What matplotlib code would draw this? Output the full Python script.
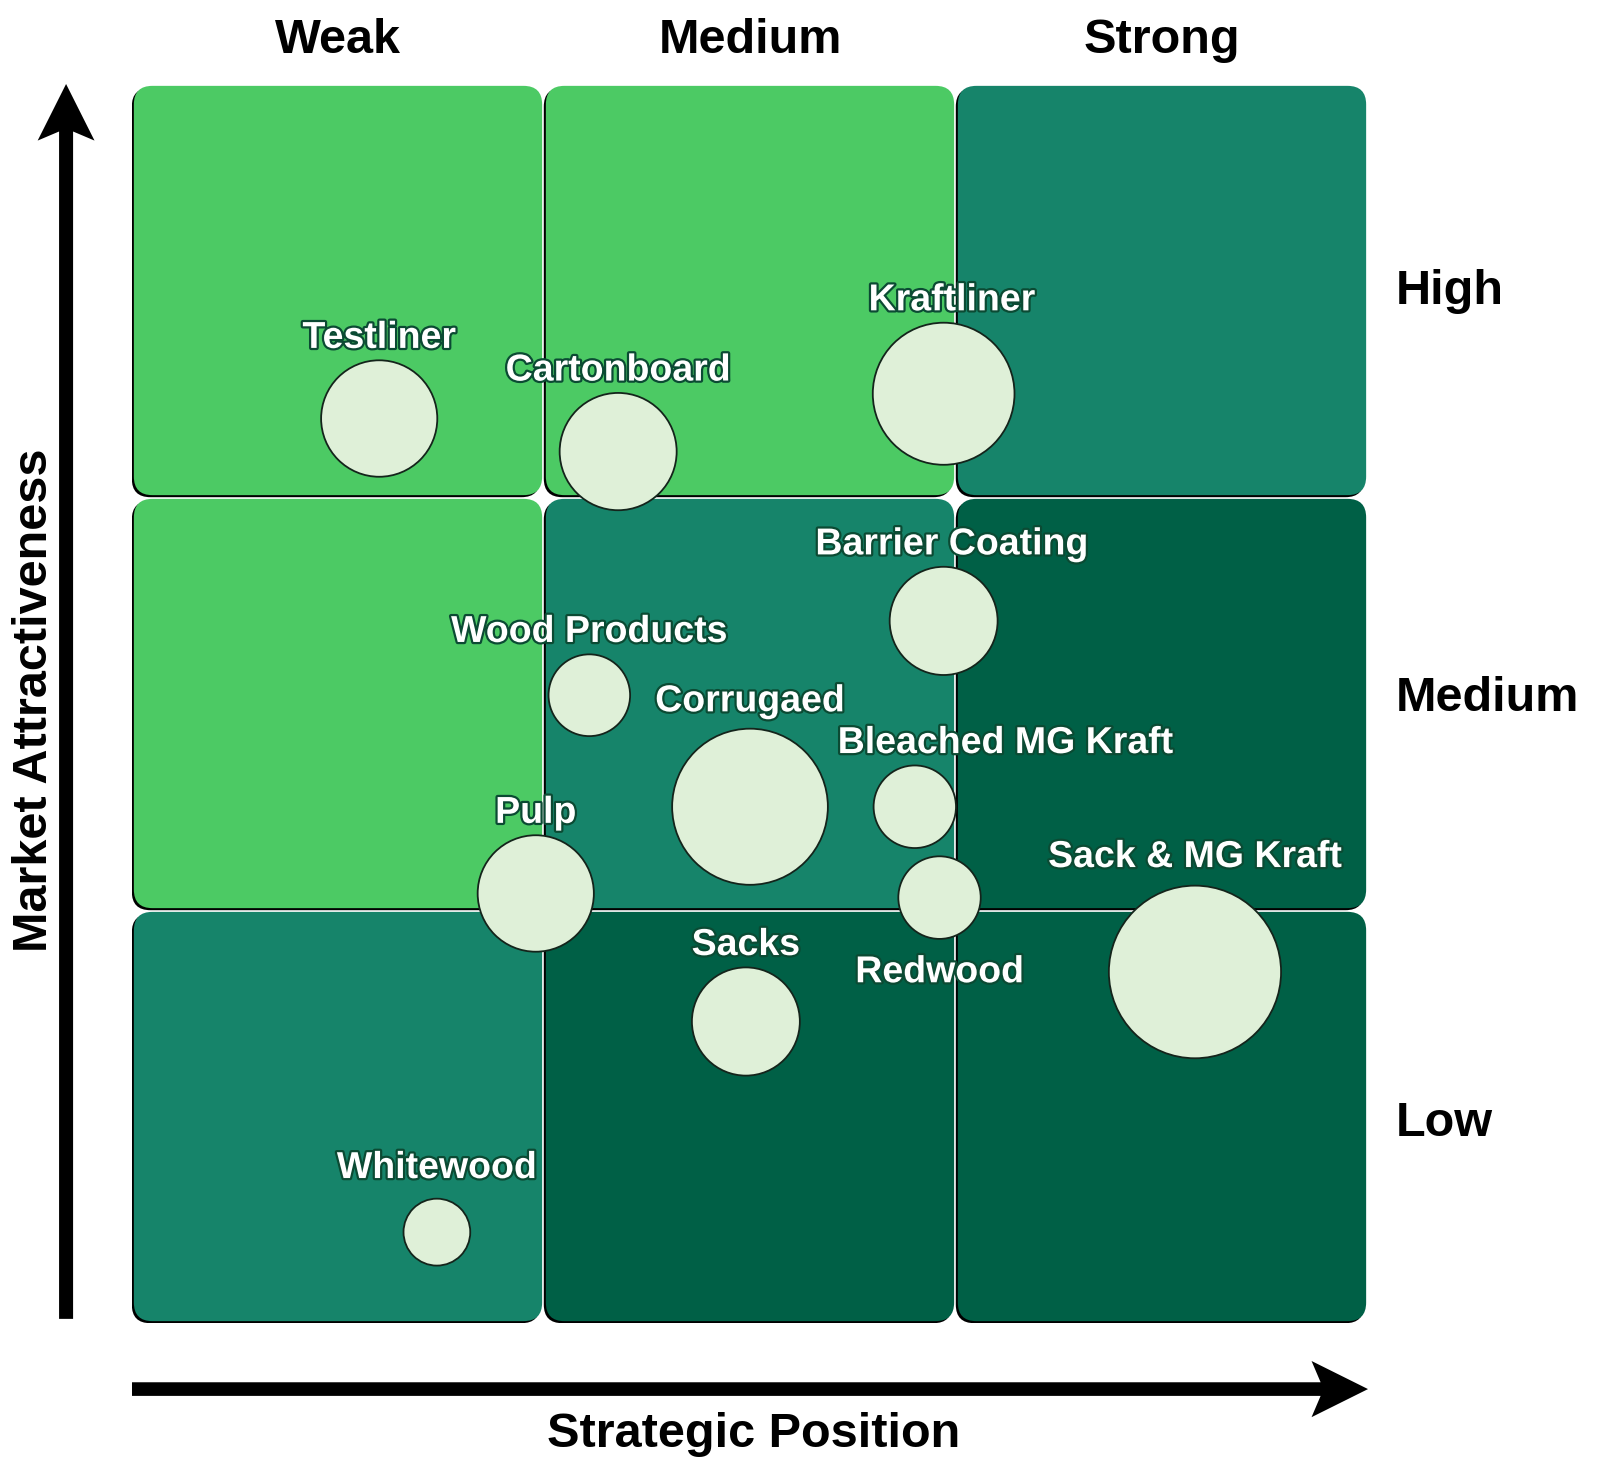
import numpy as np
import matplotlib
matplotlib.use("Agg")
import matplotlib.pyplot as plt
import matplotlib.patheffects as pe
from matplotlib.patches import FancyBboxPatch, Circle, Polygon

plt.rcParams['font.family'] = ['Liberation Sans', 'DejaVu Sans']

# data
position_labels = ["Weak", "Medium", "Strong"]
attract_labels = ["Low", "Medium", "High"]

products = ["Testliner", "Cartonboard", "Kraftliner", "Barrier Coating",
            "Wood Products", "Corrugaed", "Bleached MG Kraft", "Redwood",
            "Pulp", "Sack & MG Kraft", "Sacks", "Whitewood"]
strategic_position = [0.60, 1.18, 1.97, 1.97, 1.11, 1.50, 1.90, 1.96, 0.98, 2.58, 1.49, 0.74]
market_attract = [2.19, 2.11, 2.25, 1.70, 1.52, 1.25, 1.25, 1.03, 1.04, 0.85, 0.73, 0.22]
bubble_radius = [0.141, 0.142, 0.172, 0.131, 0.099, 0.189, 0.100, 0.100, 0.141, 0.209, 0.131, 0.081]

# zone colour per cell, rows from Low to High, columns Weak..Strong
zone = [["teal", "dark", "dark"],
        ["light", "teal", "dark"],
        ["light", "light", "teal"]]
zone_colors = {"light": "#4cca64", "teal": "#16846a", "dark": "#006046"}

# label nudges (dx, dy) so text sits like the original
nudge = {"Kraftliner": (0.02, 0), "Barrier Coating": (0.02, 0),
         "Bleached MG Kraft": (0.22, 0), "Corrugaed": (0, 0.012),
         "Sack & MG Kraft": (0, 0.015), "Whitewood": (0, 0.02)}

fig = plt.figure(figsize=(16.1, 14.69), dpi=100)
ax = fig.add_axes([132 / 1610, 146 / 1469, 1236 / 1610, 1239 / 1469])
ax.set_xlim(0, 3)
ax.set_ylim(0, 3)
ax.axis("off")

gap = 0.0045
for r in range(3):
    for c in range(3):
        x0, y0 = c + gap, r + gap
        w = h = 1 - 2 * gap
        shadow = FancyBboxPatch((x0 - 0.005, y0 - 0.005), w, h,
                                boxstyle="round,pad=0,rounding_size=0.045",
                                fc="black", ec="none", zorder=1)
        cell = FancyBboxPatch((x0, y0), w, h,
                              boxstyle="round,pad=0,rounding_size=0.045",
                              fc=zone_colors[zone[r][c]], ec="none", zorder=2)
        ax.add_patch(shadow)
        ax.add_patch(cell)

# bubbles
for x, y, rad in zip(strategic_position, market_attract, bubble_radius):
    ax.add_patch(Circle((x, y), rad, fc="#dff0d8", ec="#14241b", lw=1.3, zorder=3))

# labels
stroke = [pe.Stroke(linewidth=3.2, foreground="#0b4a33"), pe.Normal()]
for name, x, y, rad in zip(products, strategic_position, market_attract, bubble_radius):
    dx, dy = nudge.get(name, (0, 0))
    lx, ly = x + dx, y + rad + 0.03 + dy
    if name == "Redwood":
        ly = y - rad - 0.105
    ax.text(lx, ly, name, ha="center", va="baseline", fontsize=27,
            fontweight="bold", color="white", path_effects=stroke, zorder=4)

# column and row headings
for i, lab in enumerate(position_labels):
    ax.text(i + 0.5, 3.075, lab, ha="center", va="baseline", fontsize=35,
            fontweight="bold", color="black", clip_on=False)
for lab, yy in zip(attract_labels, [0.453, 1.483, 2.467]):
    ax.text(3.068, yy, lab, ha="left", va="baseline", fontsize=35,
            fontweight="bold", color="black", clip_on=False)


def arrow(start, end, shaft_hw, head_hw, head_len, notch):
    start = np.array(start, float)
    end = np.array(end, float)
    d = end - start
    L = np.hypot(*d)
    u = d / L
    n = np.array([-u[1], u[0]])
    pts = [start + n * shaft_hw,
           start + u * (L - head_len + notch) + n * shaft_hw,
           start + u * (L - head_len) + n * head_hw,
           end,
           start + u * (L - head_len) - n * head_hw,
           start + u * (L - head_len + notch) - n * shaft_hw,
           start - n * shaft_hw]
    ax.add_patch(Polygon(pts, closed=True, fc="black", ec="none",
                         clip_on=False, zorder=5))


arrow((0.0, -0.160), (3.0, -0.160), 0.0165, 0.068, 0.137, 0.022)
arrow((-0.160, 0.01), (-0.160, 3.0), 0.017, 0.069, 0.137, 0.022)

ax.text(1.51, -0.30, "Strategic Position", ha="center", va="baseline",
        fontsize=35, fontweight="bold", clip_on=False)
ax.text(-0.207, 1.508, "Market Attractiveness", ha="center", va="baseline",
        rotation=90, rotation_mode="anchor", fontsize=35, fontweight="bold",
        clip_on=False)

fig.savefig("out.png", dpi=100)
